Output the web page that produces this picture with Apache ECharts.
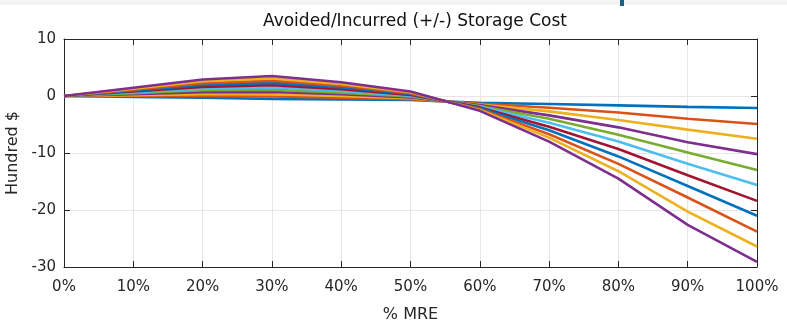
<!DOCTYPE html>
<html>
<head>
<meta charset="utf-8">
<script src="https://cdn.jsdelivr.net/npm/echarts@6/dist/echarts.min.js"></script>
<style>
  html, body { margin: 0; padding: 0; background: #fff; }
  #chart { width: 787px; height: 323px; }
</style>
</head>
<body>
<div id="chart"></div>
<script>
// % MRE categories
var mre = [0, 10, 20, 30, 40, 50, 60, 70, 80, 90, 100];
var yTicks = [-30, -20, -10, 0, 10];

// storage cost curves, hundred $
var s1  = [0, -0.15, -0.3, -0.5, -0.6, -0.7, -1.2, -1.4, -1.65, -1.9, -2.1];
var s2  = [0, 0, 0.0, -0.1, -0.3, -0.55, -1.35, -2.05, -2.9, -4.0, -4.9];
var s3  = [0, 0.15, 0.3, 0.3, 0.0, -0.4, -1.5, -2.7, -4.2, -5.9, -7.5];
var s4  = [0, 0.3, 0.65, 0.7, 0.3, -0.25, -1.6, -3.4, -5.5, -8.1, -10.2];
var s5  = [0, 0.5, 1.0, 1.1, 0.6, -0.1, -1.75, -4.0, -6.8, -9.9, -13.0];
var s6  = [0, 0.65, 1.3, 1.5, 0.9, 0.05, -1.9, -4.7, -8.0, -11.9, -15.6];
var s7  = [0, 0.8, 1.6, 1.9, 1.2, 0.2, -2.0, -5.4, -9.3, -13.9, -18.4];
var s8  = [0, 0.95, 1.95, 2.3, 1.5, 0.35, -2.15, -6.0, -10.6, -15.8, -21.0];
var s9  = [0, 1.1, 2.25, 2.7, 1.8, 0.5, -2.3, -6.7, -11.9, -17.8, -23.8];
var s10 = [0, 1.3, 2.6, 3.1, 2.1, 0.65, -2.45, -7.3, -13.2, -20.3, -26.4];
var s11 = [0, 1.45, 2.9, 3.5, 2.4, 0.8, -2.6, -8.0, -14.5, -22.6, -29.1];

var allSeries = [s1, s2, s3, s4, s5, s6, s7, s8, s9, s10, s11];
var colors = ['#0072BD', '#D95319', '#EDB120', '#7E2F8E', '#77AC30', '#4DBEEE',
              '#A2142F', '#0072BD', '#D95319', '#EDB120', '#7E2F8E'];

var myChart = echarts.init(document.getElementById('chart'));
var font = 'DejaVu Sans';

var series = [];
for (let i = 0; i < allSeries.length; i++) {
    var pts = [];
    for (let j = 0; j < mre.length; j++) {
        pts.push([mre[j], allSeries[i][j]]);
    }
    series.push({
        type: 'line',
        data: pts,
        symbol: 'none',
        lineStyle: { width: 2.6, color: colors[i] },
        z: 2 + i
    });
}

var axisLine = { show: true, onZero: false, lineStyle: { color: '#262626', width: 1 } };
var tick = { show: true, inside: true, length: 6, lineStyle: { color: '#262626' } };

option = {
    animation: false,
    title: {
        text: 'Avoided/Incurred (+/-) Storage Cost',
        left: 410,
        textAlign: 'center',
        top: 8,
        textStyle: { fontFamily: font, fontSize: 17, fontWeight: 'normal', color: '#111' }
    },
    grid: { left: 64, right: 30, top: 39, bottom: 56, outerBoundsMode: 'none' },
    xAxis: [{
        type: 'value',
        min: 0, max: 100, interval: 10,
        axisLine: axisLine,
        axisTick: tick,
        splitLine: { show: true, lineStyle: { color: '#e6e6e6' } },
        axisLabel: { formatter: '{value}%', fontFamily: font, fontSize: 15, color: '#262626', margin: 13 },
        name: '% MRE',
        nameLocation: 'middle',
        nameGap: 40,
        nameTextStyle: { fontFamily: font, fontSize: 16, color: '#262626' }
    }, {
        type: 'value', position: 'top',
        min: 0, max: 100, interval: 10,
        axisLine: axisLine, axisTick: tick,
        axisLabel: { show: false }, splitLine: { show: false }
    }],
    yAxis: [{
        type: 'value',
        min: yTicks[0], max: yTicks[yTicks.length - 1], interval: 10,
        axisLine: axisLine,
        axisTick: tick,
        splitLine: { show: true, lineStyle: { color: '#e6e6e6' } },
        axisLabel: { fontFamily: font, fontSize: 15, color: '#262626', margin: 8 },
        name: 'Hundred $',
        nameLocation: 'middle',
        nameGap: 38,
        nameTextStyle: { fontFamily: font, fontSize: 16, color: '#262626' }
    }, {
        type: 'value', position: 'right',
        min: yTicks[0], max: yTicks[yTicks.length - 1], interval: 10,
        axisLine: axisLine, axisTick: tick,
        axisLabel: { show: false }, splitLine: { show: false }
    }],
    graphic: [
        { type: 'rect', left: 0, top: 0, shape: { width: 787, height: 5 }, style: { fill: '#f3f3f3' }, silent: true },
        { type: 'rect', left: 620, top: 0, shape: { width: 4, height: 6 }, style: { fill: '#1b5e88' }, silent: true }
    ],
    series: series
};

myChart.setOption(option, true);
</script>
</body>
</html>
